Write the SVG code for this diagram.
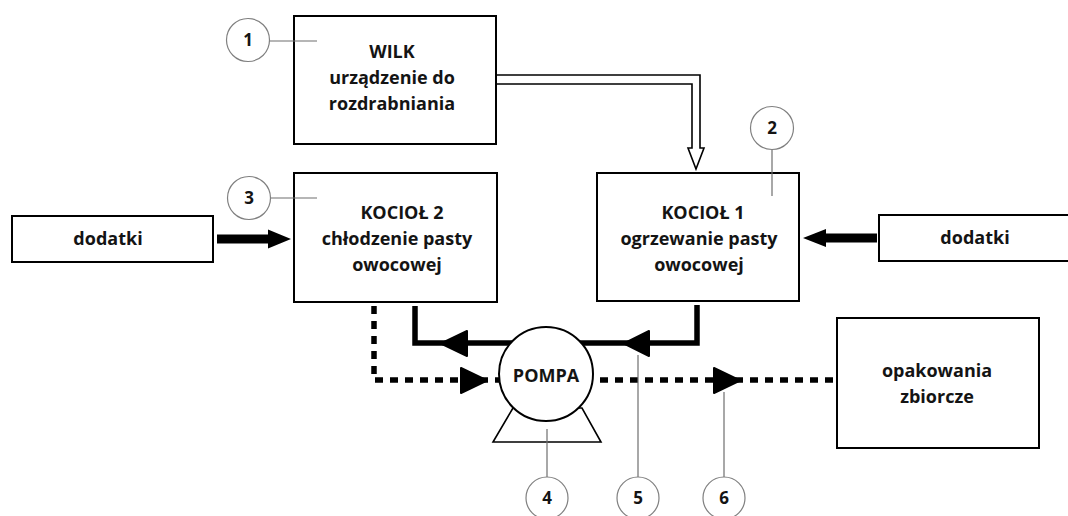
<svg xmlns="http://www.w3.org/2000/svg" width="1068" height="516" viewBox="0 0 1068 516">
<defs>
<style>
.box{fill:#fff;stroke:#000;stroke-width:2}
.t{font-family:"Open Sans","Liberation Sans",sans-serif;font-weight:700;font-size:18px;fill:#141414;text-anchor:middle}
.n{font-family:"Open Sans","Liberation Sans",sans-serif;font-weight:700;font-size:17px;fill:#141414;text-anchor:middle}
.lc{fill:#fff;stroke:#808080;stroke-width:1.2}
.ll{stroke:#6e6e6e;stroke-width:1.2;fill:none}
.solid{fill:none;stroke:#000;stroke-width:5.5;stroke-linejoin:miter}
.dash{fill:none;stroke:#000;stroke-width:5.5;stroke-dasharray:8 7}
.head{fill:#000;stroke:#000;stroke-width:2;stroke-linejoin:round}
</style>
</defs>
<rect width="1068" height="516" fill="#fff"/>

<g id="connectors">
  <!-- hollow arrow from WILK to KOCIOL 1 -->
  <path d="M496,75 H700 V148 H704 L696,169 L688,148 H692 V84 H496 Z" fill="#fff" stroke="#000" stroke-width="1.6" stroke-linejoin="miter"/>
  <!-- dodatki arrows -->
  <polygon points="217,234.5 268,234.5 268,229.5 291,239 268,248.5 268,243.5 217,243.5" fill="#000"/>
  <polygon points="877,233.5 826,233.5 826,229 803,238 826,247 826,242.5 877,242.5" fill="#000"/>
  <!-- solid loop -->
  <path class="solid" d="M415,306 V343 H697 V305"/>
  <polygon class="head" points="441,343.5 467,331 467,356"/>
  <polygon class="head" points="624,343.5 649,331 649,356"/>
  <!-- dashed path -->
  <path class="dash" d="M374,306 V380 H835"/>
  <polygon class="head" points="461,368 461,393 487,380.5"/>
  <polygon class="head" points="714,368 714,393 740,380.5"/>
</g>

<g id="wilk">
  <rect class="box" x="294" y="16" width="202" height="128"/>
  <text class="t" x="392" y="58">WILK</text>
  <text class="t" x="392" y="84">urządzenie do</text>
  <text class="t" x="392" y="110">rozdrabniania</text>
</g>

<g id="kociol2">
  <rect class="box" x="294" y="173" width="203" height="129"/>
  <text class="t" x="402" y="219">KOCIOŁ 2</text>
  <text class="t" x="397" y="245">chłodzenie pasty</text>
  <text class="t" x="397" y="271">owocowej</text>
</g>

<g id="kociol1">
  <rect class="box" x="597" y="173" width="202" height="128"/>
  <text class="t" x="703" y="219">KOCIOŁ 1</text>
  <text class="t" x="699" y="245">ogrzewanie pasty</text>
  <text class="t" x="699" y="271">owocowej</text>
</g>

<g id="dodatki-left">
  <rect class="box" x="12" y="216" width="201" height="46"/>
  <text class="t" x="108" y="245">dodatki</text>
</g>

<g id="dodatki-right">
  <rect class="box" x="879" y="215" width="200" height="46"/>
  <text class="t" x="975" y="244">dodatki</text>
</g>

<g id="opakowania">
  <rect class="box" x="837" y="318" width="202" height="130"/>
  <text class="t" x="937" y="377">opakowania</text>
  <text class="t" x="937" y="403">zbiorcze</text>
</g>

<g id="pompa">
  <polygon points="513,408 493,442 601,442 582,408" fill="#fff" stroke="#000" stroke-width="1.6"/>
  <circle cx="546" cy="374" r="47" fill="#fff" stroke="#000" stroke-width="2"/>
  <text class="t" x="546" y="382">POMPA</text>
</g>

<g id="leaders">
  <line class="ll" x1="270" y1="41" x2="317" y2="41"/>
  <line class="ll" x1="772" y1="149" x2="772" y2="196"/>
  <line class="ll" x1="270" y1="198" x2="317" y2="198"/>
  <line class="ll" x1="547" y1="429" x2="547" y2="477"/>
  <line class="ll" x1="638" y1="355" x2="638" y2="477"/>
  <line class="ll" x1="724" y1="392" x2="724" y2="477"/>
</g>

<g id="label1"><circle class="lc" cx="248" cy="40" r="21.5"/><text class="n" x="248" y="46">1</text></g>
<g id="label2"><circle class="lc" cx="772" cy="128" r="21.5"/><text class="n" x="772" y="134">2</text></g>
<g id="label3"><circle class="lc" cx="249" cy="198" r="21.5"/><text class="n" x="249" y="204">3</text></g>
<g id="label4"><circle class="lc" cx="547" cy="498" r="21"/><text class="n" x="547" y="504">4</text></g>
<g id="label5"><circle class="lc" cx="638" cy="498" r="21"/><text class="n" x="638" y="504">5</text></g>
<g id="label6"><circle class="lc" cx="724" cy="498" r="21"/><text class="n" x="724" y="504">6</text></g>
</svg>
